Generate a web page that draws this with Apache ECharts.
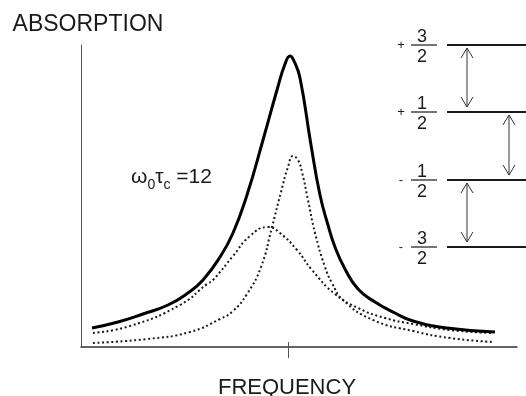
<!DOCTYPE html>
<html>
<head>
<meta charset="utf-8">
<title>Absorption vs frequency</title>
<script src="https://cdn.jsdelivr.net/npm/echarts@6/dist/echarts.min.js"></script>
<style>
    html, body { margin: 0; padding: 0; background: #fff; }
    #chart { width: 526px; height: 396px; }
</style>
</head>
<body>
<div id="chart"></div>
<script>
    // frequency offset from line centre, absorption in arbitrary units
    var freqTotal = [-196, -170, -145, -120, -100, -85, -68, -55, -41, -25, -11, -3, 2, 6, 12, 23, 32, 40, 47, 57, 70, 87, 107, 125, 159, 207];
    var absTotal = [19, 25, 33, 42, 54, 67, 90, 114, 152, 207, 257, 283, 291, 286, 269, 202, 152, 122, 100, 78, 58, 45, 34, 26, 19, 15];

    var freqBroad = [-195, -158, -108, -81, -75, -55, -38, -20, -8, 9, 24, 47, 70, 97, 125, 162, 205];
    var absBroad = [14, 21, 42, 63, 67, 91, 111, 120, 114, 97, 77, 53, 39, 29, 23, 17, 14];

    var freqNarrow = [-195, -141, -98, -68, -55, -41, -27, -16, -7, 0, 5, 10, 14, 20, 27, 37, 44, 55, 85, 125, 162, 205];
    var absNarrow = [4, 8, 15, 28, 36, 53, 80, 120, 155, 180, 191, 187, 175, 147, 114, 80, 64, 47, 27, 16, 9, 5];

    var centreTick = [0];

    // spin levels m = +3/2 ... -3/2
    var levelSigns = ['+', '+', '-', '-'];
    var levelNumerators = ['3', '1', '1', '3'];
    var levelDenominator = '2';

    var FONT = '"Liberation Sans", Arial, sans-serif';
    var INK = '#1a1a1a';

    function pairs(xs, ys) {
        var out = [];
        for (var i = 0; i < xs.length; i++) {
            out.push([xs[i], ys[i]]);
        }
        return out;
    }

    // energy level diagram on the right (just drawing, not data)
    function levelDiagram() {
        var g = [];
        var top = 45, step = 67.3;
        var arrowX = [467, 509, 467];
        var ys = [];
        for (var i = 0; i < levelSigns.length; i++) {
            var y = Math.round(top + i * step);
            ys.push(y);
            g.push({type: 'line', shape: {x1: 447, y1: y, x2: 526, y2: y}, style: {stroke: INK, lineWidth: 2}});
            g.push({type: 'line', shape: {x1: 411, y1: y, x2: 437, y2: y}, style: {stroke: INK, lineWidth: 1.2}});
            g.push({type: 'text', x: 401, y: y, style: {text: levelSigns[i], fontFamily: FONT, fontSize: 13, fill: INK, align: 'center', verticalAlign: 'middle'}});
            g.push({type: 'text', x: 422, y: y + 1, style: {text: levelNumerators[i], fontFamily: FONT, fontSize: 18, fill: INK, align: 'center', verticalAlign: 'bottom'}});
            g.push({type: 'text', x: 422, y: y + 3, style: {text: levelDenominator, fontFamily: FONT, fontSize: 18, fill: INK, align: 'center', verticalAlign: 'top'}});
        }
        // double headed arrows between neighbouring levels
        for (var j = 0; j < arrowX.length; j++) {
            var x = arrowX[j], y1 = ys[j] + 3, y2 = ys[j + 1] - 5;
            var st = {stroke: '#333', lineWidth: 1, fill: null};
            g.push({type: 'line', shape: {x1: x, y1: y1, x2: x, y2: y2}, style: st});
            g.push({type: 'polyline', shape: {points: [[x - 6, y1 + 10], [x, y1], [x + 6, y1 + 10]]}, style: st});
            g.push({type: 'polyline', shape: {points: [[x - 6, y2 - 10], [x, y2], [x + 6, y2 - 10]]}, style: st});
        }
        return g;
    }

    var myChart = echarts.init(document.getElementById('chart'));

    var option = {
        backgroundColor: '#fff',
        animation: false,
        grid: {left: 81, right: 9, top: 45, bottom: 49, outerBoundsMode: 'none', containLabel: false},
        xAxis: [
            {
                type: 'value',
                min: -207,
                max: 229,
                name: 'FREQUENCY',
                nameLocation: 'middle',
                nameGap: 41,
                nameTextStyle: {fontFamily: FONT, fontSize: 22, color: INK, verticalAlign: 'middle', padding: [0, 24, 0, 0]},
                axisLine: {onZero: false, lineStyle: {color: '#333', width: 1.5}},
                axisTick: {show: true, customValues: centreTick, length: 11, lineStyle: {color: '#555', width: 1}},
                axisLabel: {show: false},
                splitLine: {show: false}
            },
            {
                // short inner stub of the centre tick
                type: 'value',
                position: 'bottom',
                min: -207,
                max: 229,
                axisLine: {show: false, onZero: false},
                axisTick: {show: true, inside: true, customValues: centreTick, length: 5, lineStyle: {color: '#555', width: 1}},
                axisLabel: {show: false},
                splitLine: {show: false}
            }
        ],
        yAxis: {
            type: 'value',
            min: 0,
            max: 302,
            name: 'ABSORPTION',
            nameLocation: 'end',
            nameGap: 20,
            nameTextStyle: {fontFamily: FONT, fontSize: 23, color: INK, align: 'center', verticalAlign: 'middle', padding: [0, 0, 0, 14]},
            axisLine: {show: true, onZero: false, lineStyle: {color: '#555', width: 1}},
            axisTick: {show: false},
            axisLabel: {show: false},
            splitLine: {show: false}
        },
        series: [
            {
                name: 'broad',
                type: 'line',
                smooth: true,
                symbol: 'none',
                data: pairs(freqBroad, absBroad),
                lineStyle: {color: INK, width: 2, type: [2, 2.6]}
            },
            {
                name: 'narrow',
                type: 'line',
                smooth: true,
                symbol: 'none',
                data: pairs(freqNarrow, absNarrow),
                lineStyle: {color: INK, width: 2, type: [2, 2.6]}
            },
            {
                name: 'total',
                type: 'line',
                smooth: true,
                symbol: 'none',
                data: pairs(freqTotal, absTotal),
                lineStyle: {color: '#000', width: 3}
            }
        ],
        graphic: [
            {
                type: 'text',
                left: 131,
                top: 167,
                style: {
                    text: '{a|ω}{s|0}{a|τ}{s|c}{a| =12}',
                    fill: INK,
                    rich: {
                        a: {fontFamily: FONT, fontSize: 21, lineHeight: 30, verticalAlign: 'middle', fill: INK},
                        s: {fontFamily: FONT, fontSize: 14, lineHeight: 14, verticalAlign: 'bottom', fill: INK}
                    }
                }
            }
        ].concat(levelDiagram())
    };

    myChart.setOption(option);
</script>
</body>
</html>
